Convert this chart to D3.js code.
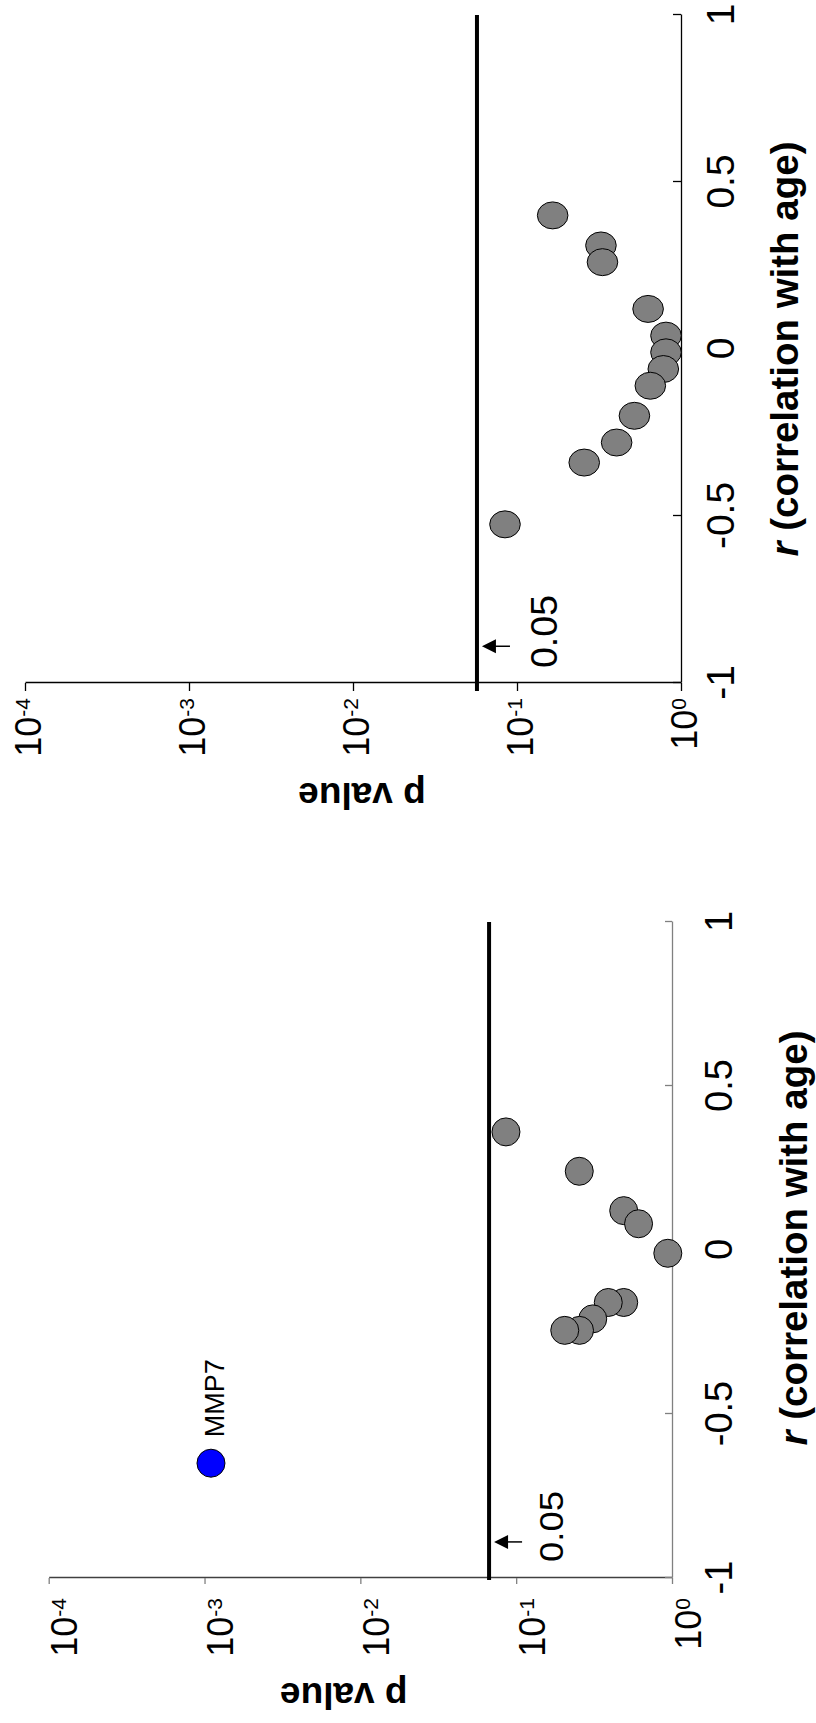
<!DOCTYPE html>
<html><head><meta charset="utf-8">
<script src="https://cdn.jsdelivr.net/npm/d3@7"></script>
<style>body{margin:0;background:#fff} svg{display:block}</style>
</head><body><svg id="c" width="816" height="1723"></svg>
<script>
// ---- data ----
const pTicks = [1e-4, 1e-3, 1e-2, 1e-1, 1];
const pTickBase = "10";
const pTickExp = ["-4", "-3", "-2", "-1", "0"];
const rTicks = [-1, -0.5, 0, 0.5, 1];
const rTickLabels = ["-1", "-0.5", "0", "0.5", "1"];
const thresholdLabel = "0.05";
const rTitleItalic = "r";
const rTitleRest = "\u00a0(correlation with age)";
const pTitle = "p value";

// top panel
const topR = [0.40, 0.31, 0.26, 0.12, 0.04, -0.01, -0.06, -0.11, -0.20, -0.28, -0.34, -0.525];
const topP = [0.165, 0.325, 0.332, 0.63, 0.81, 0.81, 0.78, 0.65, 0.52, 0.405, 0.257, 0.0845];
const topThreshold = [0.057];

// bottom panel
const botR = [0.36, 0.24, 0.12, 0.08, -0.01, -0.16, -0.16, -0.21, -0.245, -0.245];
const botP = [0.086, 0.254, 0.49, 0.61, 0.94, 0.49, 0.39, 0.31, 0.255, 0.205];
const botThreshold = [0.067];
const hitNames = ["MMP7"];
const hitR = [-0.65];
const hitP = [0.0011];

// ---- layout ----
const svg = d3.select("#c");
const FONT = "'Liberation Sans', Arial, sans-serif";

const panels = [
  {tx: 25, ty: 683, Lr: 668, Lp: 656, pTick: 8, rTick: 8,
   pAxisColor: "#000", pTickColor: "#000", rAxisColor: "#000",
   pLabGap: 15, pLabBase: 15, rLabBase: 53, rLabSize: 39, rTitleBase: 117, titleShift: 0,
   pTitleB: 100, pTitleC: 337, labOff: 80, labStart: 15, labSize: 37, labLen: 73,
   arrowR: -0.89, thrExt: 8, ptRx: 13.5, ptRy: 15.3,
   rs: topR, ps: topP, th: topThreshold, hits: []},
  {tx: 48.7, ty: 1578, Lr: 656, Lp: 623.3, pTick: 6, rTick: 7,
   pAxisColor: "#404040", pTickColor: "#808080", rAxisColor: "#808080",
   pLabGap: 20, pLabBase: 28, rLabBase: 60, rLabSize: 38, rTitleBase: 135, titleShift: 12,
   pTitleB: 105, pTitleC: 295, labOff: 74, labStart: 16, labSize: 33, labLen: 71,
   arrowR: -0.89, thrExt: 2, ptRx: 14, ptRy: 14,
   rs: botR, ps: botP, th: botThreshold,
   hits: hitNames.map((n, i) => ({name: n, r: hitR[i], p: hitP[i]}))}
];

panels.forEach(cfg => {
  const g = svg.append("g").attr("transform", `translate(${cfg.tx},${cfg.ty}) rotate(-90)`);
  const x = d3.scaleLinear().domain([-1, 1]).range([0, cfg.Lr]);
  const y = d3.scaleLog().domain([1e-4, 1]).range([0, cfg.Lp]);

  // p axis (left in unrotated frame)
  const ya = g.append("g").call(d3.axisLeft(y).tickValues(pTicks)
      .tickSizeInner(cfg.pTick).tickSizeOuter(0).tickFormat(""));
  ya.select(".domain").attr("stroke", cfg.pAxisColor).attr("stroke-width", 1.3);
  ya.selectAll(".tick line").attr("stroke", cfg.pTickColor).attr("stroke-width", 1.3);
  ya.selectAll(".tick").each(function(d, i) {
    const t = d3.select(this).select("text");
    t.text(null).attr("x", -cfg.pLabGap).attr("y", cfg.pLabBase).attr("dy", null)
     .attr("text-anchor", "end").attr("font-size", 36).attr("font-family", FONT).attr("fill", "#000");
    t.append("tspan").text(pTickBase);
    t.append("tspan").attr("font-size", 21).attr("dy", -11).text(pTickExp[i]);
  });

  // r axis (bottom in unrotated frame)
  const xa = g.append("g").attr("transform", `translate(0,${cfg.Lp})`)
    .call(d3.axisBottom(x).tickValues(rTicks).tickSizeInner(-cfg.rTick).tickSizeOuter(0)
      .tickFormat((d, i) => rTickLabels[i]));
  xa.select(".domain").attr("stroke", cfg.rAxisColor).attr("stroke-width", 1.3);
  xa.selectAll(".tick line").attr("stroke", cfg.rAxisColor).attr("stroke-width", 1.3);
  xa.selectAll(".tick text").attr("y", cfg.rLabBase).attr("dy", null)
    .attr("font-size", cfg.rLabSize).attr("font-family", FONT).attr("fill", "#000");

  // titles
  const rt = g.append("text").attr("x", cfg.Lr / 2 + cfg.titleShift).attr("y", cfg.Lp + cfg.rTitleBase)
    .attr("text-anchor", "middle").attr("font-size", 38.5).attr("font-weight", "bold").attr("font-family", FONT);
  rt.append("tspan").attr("font-style", "italic").text(rTitleItalic);
  rt.append("tspan").text(rTitleRest);
  g.append("text").attr("transform", `translate(${-cfg.pTitleB},${cfg.pTitleC}) rotate(-90)`)
    .attr("text-anchor", "middle").attr("font-size", 37).attr("font-weight", "bold")
    .attr("font-family", FONT).text(pTitle);

  // threshold line
  g.selectAll(".thr").data(cfg.th).join("line").attr("class", "thr")
    .attr("x1", x(-1) - cfg.thrExt).attr("x2", x(1)).attr("y1", d => y(d)).attr("y2", d => y(d))
    .attr("stroke", "#000").attr("stroke-width", 4);

  // arrow + label
  const thY = y(cfg.th[0]);
  const ax = x(cfg.arrowR);
  g.append("line").attr("x1", ax).attr("x2", ax).attr("y1", thY + 18).attr("y2", thY + 33)
    .attr("stroke", "#000").attr("stroke-width", 1.5);
  g.append("path").attr("d", `M${ax},${thY + 5}L${ax - 7},${thY + 19}L${ax + 7},${thY + 19}Z`).attr("fill", "#000");
  g.append("text").attr("x", x(-1) + cfg.labStart).attr("y", thY + cfg.labOff)
    .attr("font-size", cfg.labSize).attr("font-family", FONT)
    .attr("textLength", cfg.labLen).attr("lengthAdjust", "spacingAndGlyphs").text(thresholdLabel);

  // points
  g.selectAll(".pt").data(cfg.rs.map((r, i) => ({r, p: cfg.ps[i]}))).join("ellipse").attr("class", "pt")
    .attr("cx", d => x(d.r)).attr("cy", d => y(d.p)).attr("rx", cfg.ptRx).attr("ry", cfg.ptRy)
    .attr("fill", "#808080").attr("stroke", "#000").attr("stroke-width", 1);

  // highlighted hits
  g.selectAll(".hit").data(cfg.hits).join("ellipse").attr("class", "hit")
    .attr("cx", d => x(d.r)).attr("cy", d => y(d.p)).attr("rx", cfg.ptRx).attr("ry", cfg.ptRy)
    .attr("fill", "#0000ff").attr("stroke", "#000").attr("stroke-width", 1);
  g.selectAll(".hitlab").data(cfg.hits).join("text").attr("class", "hitlab")
    .attr("x", d => x(d.r) + 26).attr("y", d => y(d.p) + 13)
    .attr("font-size", 27).attr("font-family", FONT).text(d => d.name);
});
</script></body></html>
